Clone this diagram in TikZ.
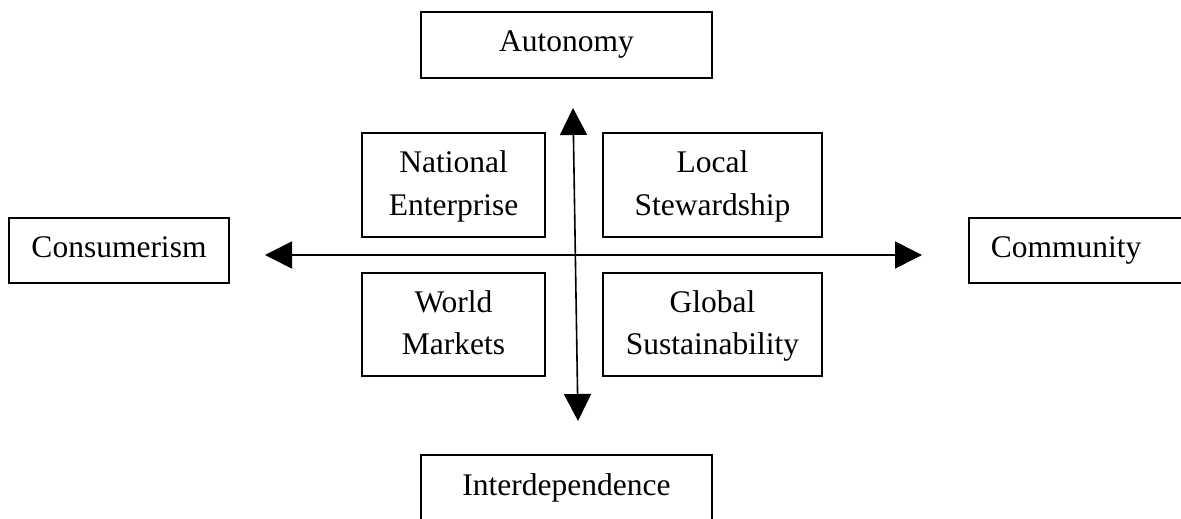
\documentclass[tikz,border=0pt]{standalone}
\usepackage{fontspec}
\setmainfont{Liberation Serif}
\usetikzlibrary{arrows.meta}
\tikzset{
  box/.style={draw=black, line width=1.6pt, inner sep=0pt, align=center,
    font=\fontsize{31.5}{42.5}\selectfont},
  onebox/.style={box, text height=22pt, text depth=8pt},
  twobox/.style={box, text depth=4pt},
  axis/.style={line width=1.6pt, {Triangle[length=27pt,width=27pt]}-{Triangle[length=27pt,width=27pt]}}
}
\begin{document}
\begin{tikzpicture}[x=1pt,y=-1pt]
\useasboundingbox (0,0) rectangle (1181,519);
\fill[white] (0,0) rectangle (1181,519);
\clip (0,0) rectangle (1181,519);
\node[onebox, minimum width=291pt, minimum height=66pt] (aut) at (566.5,45) {Autonomy};
\node[onebox, minimum width=291pt, minimum height=66pt] (int) at (566.5,488) {Interdependence};
\node[onebox, minimum width=220pt, minimum height=65pt] (con) at (119,250.5) {Consumerism};
\node[onebox, anchor=west, text width=196pt, align=left, inner xsep=22pt, minimum height=65pt] (com) at (968,250.5) {Community};
\node[twobox, minimum width=183pt, minimum height=104pt] (nat) at (453.5,185) {National\\Enterprise};
\node[twobox, minimum width=219pt, minimum height=104pt] (loc) at (712.5,185) {Local\\Stewardship};
\node[twobox, minimum width=183pt, minimum height=103pt] (wor) at (453.5,324.5) {World\\Markets};
\node[twobox, minimum width=219pt, minimum height=103pt] (glo) at (712.5,324.5) {Global\\Sustainability};
\coordinate (left) at (265,255);
\coordinate (right) at (922,255);
\coordinate (top) at (573,108);
\coordinate (bottom) at (578,421);
\draw[axis] (left) -- (right);
\draw[axis] (top) -- (bottom);
\end{tikzpicture}
\end{document}
